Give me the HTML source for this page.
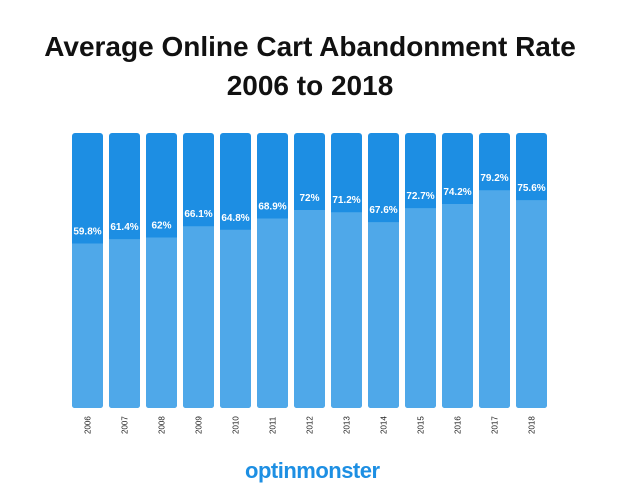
<!DOCTYPE html>
<html><head><meta charset="utf-8"><style>
body{margin:0;width:620px;height:500px;background:#fff;font-family:"Liberation Sans",sans-serif;overflow:hidden;position:relative}
.t{position:absolute;left:0;width:620px;text-align:center;font-weight:bold;font-size:28px;color:#111}
</style></head><body>
<div class="t" style="top:31px">Average Online Cart Abandonment Rate</div>
<div class="t" style="top:70px">2006 to 2018</div>
<svg id="c" width="620" height="500" style="position:absolute;left:0;top:0"></svg>
<div style="position:absolute;left:245px;top:458px;width:130px;text-align:center;font-weight:bold;font-size:22px;color:#1d8fe3;letter-spacing:-0.5px">optinmonster</div>
<script>
const years=["2006","2007","2008","2009","2010","2011","2012","2013","2014","2015","2016","2017","2018"];
const values=[59.8,61.4,62,66.1,64.8,68.9,72,71.2,67.6,72.7,74.2,79.2,75.6];
const labels=["59.8%","61.4%","62%","66.1%","64.8%","68.9%","72%","71.2%","67.6%","72.7%","74.2%","79.2%","75.6%"];
const svg=document.getElementById('c');const NS='http://www.w3.org/2000/svg';
const top0=133,bot=408,H=bot-top0,x0=72,pitch=37,bw=31;
const xs=i=>x0+i*pitch, ys=v=>bot-v/100*H;
function mk(t,a){const e=document.createElementNS(NS,t);for(const k in a)e.setAttribute(k,a[k]);svg.appendChild(e);return e;}
years.forEach((y,i)=>{
 const x=xs(i);
 const b=mk('rect',{x:x,y:top0,width:bw,height:H,rx:3,fill:'#1d8ee3'});
 
 
 const yy=ys(values[i]);
 const p=mk('path',{d:`M${x},${yy}H${x+bw}V${bot-3}Q${x+bw},${bot} ${x+bw-3},${bot}H${x+3}Q${x},${bot} ${x},${bot-3}Z`,fill:'#4fa8e9'});
 
 
 const t=mk('text',{x:x+bw/2,y:yy-9,'text-anchor':'middle','font-size':'10','font-weight':'bold',fill:'#fff','font-family':'Liberation Sans, sans-serif'});
 t.textContent=labels[i];
 
 
 const l=mk('text',{transform:`translate(${x+bw/2+3},${434}) rotate(-90)`,'font-size':'8',fill:'#222','font-family':'Liberation Sans, sans-serif'});
 l.textContent=y;
 
 
});
</script>
</body></html>
